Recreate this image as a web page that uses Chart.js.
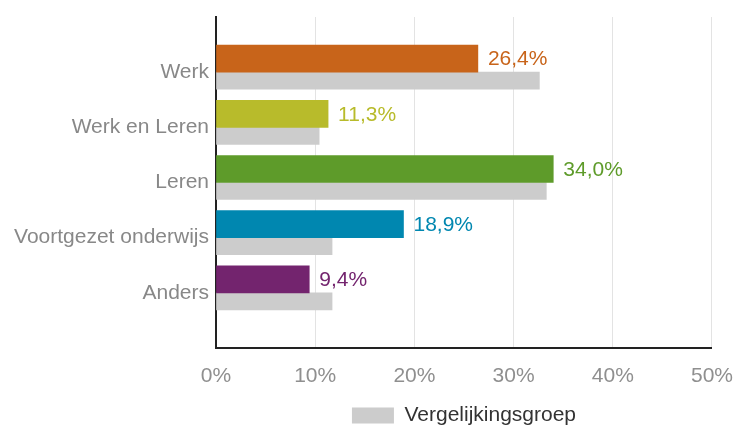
<!DOCTYPE html>
<html>
<head>
<meta charset="utf-8">
<script src="https://cdn.jsdelivr.net/npm/chart.js@4/dist/chart.umd.min.js"></script>
<style>
html,body{margin:0;padding:0;background:#fff;}
#wrap{width:733px;height:425px;}
</style>
</head>
<body>
<div id="wrap"><canvas id="c" width="733" height="425"></canvas></div>
<script>
const categories = ['Werk', 'Werk en Leren', 'Leren', 'Voortgezet onderwijs', 'Anders'];
const schoolValues = [26.4, 11.3, 34.0, 18.9, 9.4];
const comparisonValues = [32.6, 10.4, 33.3, 11.7, 11.7];
const barColors = ['#C8641A', '#B8BB2B', '#5E9B2A', '#0087B0', '#73246E'];
const xTicks = [0, 10, 20, 30, 40, 50];
const legendLabel = 'Vergelijkingsgroep';

// pad with empty slots so that the category positions leave half a band above and below
const labels = [''].concat(categories, ['']);
const pad = arr => [null].concat(arr, [null]);
const padColors = [null].concat(barColors, [null]);

const fontFamily = '"Liberation Sans", Arial, sans-serif';

const valueLabels = {
  id: 'valueLabels',
  afterDatasetsDraw(chart) {
    const ctx = chart.ctx;
    const meta = chart.getDatasetMeta(0);
    ctx.save();
    ctx.font = '21px ' + fontFamily;
    ctx.textAlign = 'left';
    ctx.textBaseline = 'middle';
    meta.data.forEach((el, i) => {
      const v = chart.data.datasets[0].data[i];
      if (v === null || v === undefined) return;
      ctx.fillStyle = padColors[i];
      ctx.fillText(v.toFixed(1).replace('.', ',') + '%', el.x + 10, el.y + 1);
    });
    ctx.restore();
  }
};

new Chart(document.getElementById('c'), {
  type: 'bar',
  data: {
    labels: labels,
    datasets: [
      {
        label: 'Resultaat',
        data: pad(schoolValues),
        backgroundColor: padColors,
        barThickness: 27,
        borderWidth: 0
      },
      {
        label: legendLabel,
        data: pad(comparisonValues),
        backgroundColor: '#CCCCCC',
        barThickness: 17,
        borderWidth: 0
      }
    ]
  },
  options: {
    indexAxis: 'y',
    responsive: false,
    animation: false,
    devicePixelRatio: 1,
    layout: { padding: { top: 17, right: 0, bottom: -11, left: 0 } },
    plugins: {
      tooltip: { enabled: false },
      legend: {
        position: 'bottom',
        fullSize: false,
        labels: {
          filter: item => item.datasetIndex === 1,
          boxWidth: 42,
          boxHeight: 16,
          color: '#333333',
          font: { family: fontFamily, size: 21 },
          padding: 10
        }
      }
    },
    scales: {
      x: {
        type: 'linear',
        min: 0,
        max: 50,
        afterBuildTicks: s => { s.ticks = xTicks.map(v => ({ value: v })); },
        afterFit: s => { s.height = 47; },
        grid: { color: '#E3E3E3', drawTicks: true, tickLength: 16, tickColor: 'rgba(0,0,0,0)', lineWidth: 1 },
        border: { color: '#222222', width: 2 },
        ticks: {
          padding: 0,
          color: '#8F8F8F',
          font: { family: fontFamily, size: 21 },
          callback: v => v + '%'
        }
      },
      y: {
        type: 'category',
        offset: false,
        afterFit: s => { s.width = 216; },
        grid: { display: true, drawOnChartArea: false, drawTicks: true, tickLength: 7, color: 'rgba(0,0,0,0)', tickColor: 'rgba(0,0,0,0)' },
        border: { color: '#222222', width: 2 },
        ticks: {
          autoSkip: false,
          padding: 0,
          color: '#888888',
          font: { family: fontFamily, size: 21 }
        }
      }
    }
  },
  plugins: [valueLabels]
});
</script>
</body>
</html>
